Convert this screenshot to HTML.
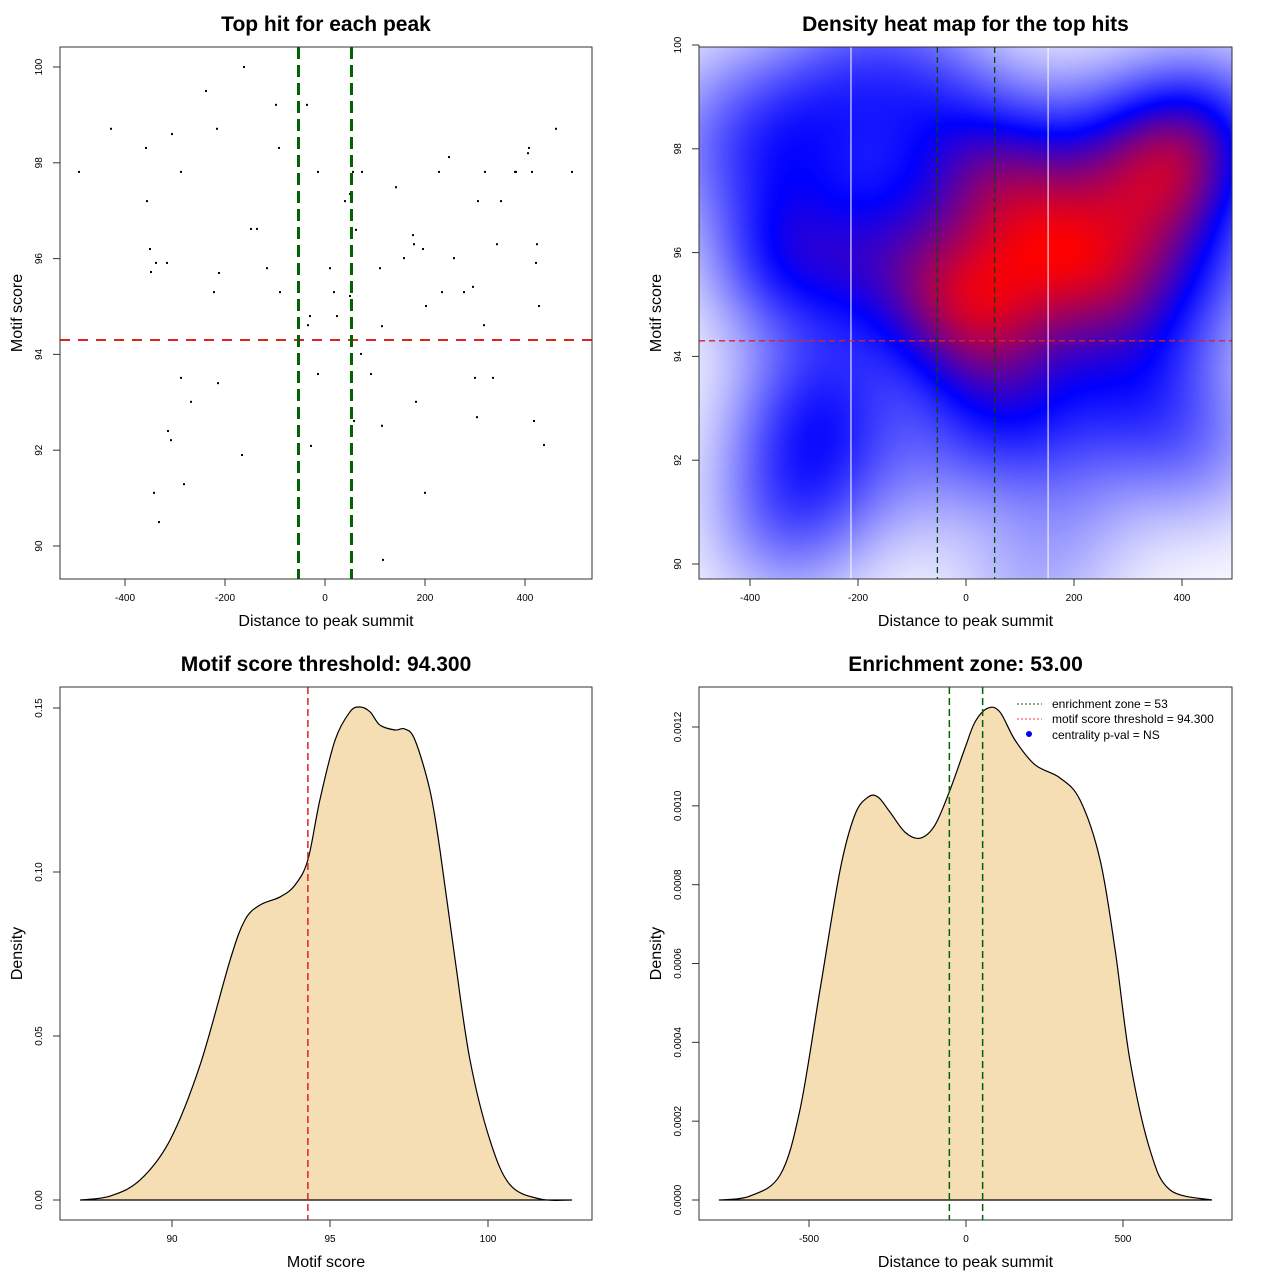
<!DOCTYPE html>
<html><head><meta charset="utf-8">
<style>
html,body{margin:0;padding:0;background:#fff;}
#wrap{position:relative;width:1280px;height:1280px;font-family:"Liberation Sans",sans-serif;}
#heat{position:absolute;left:699px;top:47px;}
#svg{position:absolute;left:0;top:0;}
</style></head>
<body>
<div id="wrap">
<canvas id="heat" width="533" height="532"></canvas>
<svg id="svg" width="1280" height="1280" xmlns="http://www.w3.org/2000/svg"></svg>
</div>
<script>
// ---- data ----
const hitDist = [-492,-428,-358,-356,-350,-348,-342,-338,-332,-316,-314,-308,-306,-288,-288,-282,-268,-238,-216,-214,-212,-222,-162,-166,-148,-136,-116,-98,-92,-90,-52,-36,-34,-30,-28,-14,-14,10,18,24,40,50,56,50,58,62,74,72,92,110,114,114,116,142,158,176,178,196,200,202,182,228,234,248,258,278,296,300,304,306,318,320,336,344,352,380,382,406,408,414,418,422,424,428,438,462,494];
const hitScore = [97.81,98.71,98.31,97.20,96.20,95.72,91.11,95.91,90.50,95.91,92.40,92.21,98.60,97.81,93.51,91.29,93.01,99.50,98.71,93.40,95.70,95.30,100.0,91.90,96.62,96.62,95.80,99.21,98.31,95.30,95.01,99.21,94.61,94.80,92.09,97.81,93.59,95.80,95.30,94.80,97.20,95.22,97.81,97.35,92.61,96.60,97.81,94.01,93.59,95.80,94.59,92.51,89.71,97.49,96.01,96.49,96.30,96.20,91.11,95.01,93.01,97.81,95.30,98.12,96.01,95.30,95.41,93.51,92.69,97.20,94.61,97.81,93.51,96.30,97.20,97.81,97.81,98.20,98.31,97.81,92.61,95.91,96.30,95.01,92.11,98.71,97.81];
const scoreThreshold = 94.3;
const enrichZone = 53;
const scoreDensX = [87.09,88.04,88.99,89.94,90.89,91.84,92.31,92.78,93.42,93.89,94.30,94.68,95.16,95.63,95.95,96.27,96.58,97.06,97.37,97.69,98.16,98.48,98.96,99.43,100.06,100.70,101.65,102.66];
const scoreDensY = [0,0.0012,0.0061,0.0183,0.0412,0.0732,0.0854,0.0899,0.0924,0.0960,0.1037,0.122,0.1402,0.1488,0.1503,0.1488,0.1448,0.1433,0.1436,0.1402,0.125,0.1067,0.0732,0.0427,0.0183,0.0046,0.0003,0];
const distDensX = [-787,-688,-592,-529,-465,-401,-354,-312,-280,-242,-194,-146,-99,-51,-3,29,70,108,156,220,299,363,427,475,522,586,650,783];
const distDensY = [0,0.0000101,0.0000634,0.000228,0.000533,0.000837,0.000977,0.001022,0.001022,0.000984,0.000933,0.000918,0.000951,0.001040,0.001147,0.001213,0.001248,0.001238,0.001167,0.001104,0.001071,0.001015,0.000863,0.000634,0.000355,0.000127,0.0000254,0];
const p1XTicks = [-400,-200,0,200,400];
const p1YTicks = [90,92,94,96,98,100];
const p3XTicks = [90,95,100];
const p3YTicks = [0,0.05,0.10,0.15];
const p3YLabels = ["0.00","0.05","0.10","0.15"];
const p4XTicks = [-500,0,500];
const p4YTicks = [0,0.0002,0.0004,0.0006,0.0008,0.0010,0.0012];
const p4YLabels = ["0.0000","0.0002","0.0004","0.0006","0.0008","0.0010","0.0012"];

const NS="http://www.w3.org/2000/svg";
const svg=document.getElementById('svg');
function el(tag,attrs,parent,txt){const e=document.createElementNS(NS,tag);for(const k in attrs)e.setAttribute(k,attrs[k]);if(txt!==undefined)e.textContent=txt;(parent||svg).appendChild(e);return e;}

function axes(g,box,xs,ys,xt,xl,yt,yl,title,xlab,ylab){
  el('rect',{x:box[0],y:box[1],width:box[2]-box[0],height:box[3]-box[1],fill:'none',stroke:'#333','stroke-width':1},g);
  const xa=el('g',{},g);
  el('line',{x1:xs(xt[0]),x2:xs(xt[xt.length-1]),y1:box[3],y2:box[3],stroke:'#333'},xa);
  xt.forEach((t,i)=>{const x=xs(t);el('line',{x1:x,x2:x,y1:box[3],y2:box[3]+7,stroke:'#333'},xa);
    const tx=el('text',{x:x,y:box[3]+22,'font-size':10,'text-anchor':'middle',fill:'#000'},xa,xl[i]);});
  const ya=el('g',{},g);
  el('line',{x1:box[0],x2:box[0],y1:ys(yt[0]),y2:ys(yt[yt.length-1]),stroke:'#333'},ya);
  yt.forEach((t,i)=>{const y=ys(t);el('line',{x1:box[0]-7,x2:box[0],y1:y,y2:y,stroke:'#333'},ya);
    const tx=el('text',{x:box[0]-18,y:y,'font-size':10,'text-anchor':'middle',fill:'#000',transform:`rotate(-90 ${box[0]-18} ${y})`},ya,yl[i]);});
  const tt=el('text',{x:(box[0]+box[2])/2,y:box[1]-16,'font-size':21,'font-weight':'bold','text-anchor':'middle'},g,title);
  
  const xl2=el('text',{x:(box[0]+box[2])/2,y:box[3]+47,'font-size':16,'text-anchor':'middle'},g,xlab);
  
  const yx=box[0]-38,yy=(box[1]+box[3])/2;
  const yl2=el('text',{x:yx,y:yy,'font-size':16,'text-anchor':'middle',transform:`rotate(-90 ${yx} ${yy})`},g,ylab);
  
}
function lscale(d0,r0,d1,r1){return v=>r0+(v-d0)*(r1-r0)/(d1-d0);}
function smoothPath(px,py){let d=`M${px[0]},${py[0]}`;for(let i=0;i<px.length-1;i++){const i0=Math.max(0,i-1),i3=Math.min(px.length-1,i+2);
  const c1x=px[i]+(px[i+1]-px[i0])/6,c1y=py[i]+(py[i+1]-py[i0])/6,c2x=px[i+1]-(px[i3]-px[i])/6,c2y=py[i+1]-(py[i3]-py[i])/6;
  d+=` C${c1x},${c1y} ${c2x},${c2y} ${px[i+1]},${py[i+1]}`;}return d;}

// ---- Panel 1: scatter ----
{
  const g=el('g',{});
  const box=[60,47,592,579];
  const xs=lscale(0,325,400,525), ys=lscale(90,546,100,67);
  hitDist.forEach((d,i)=>{const c=el('rect',{x:xs(d)-1,y:ys(hitScore[i])-1,width:2,height:2,fill:'#000'},g);
    });
  const r=el('line',{x1:box[0],x2:box[2],y1:ys(scoreThreshold),y2:ys(scoreThreshold),stroke:'#dd2222','stroke-width':2,'stroke-dasharray':'10,8'},g);
  
  [-enrichZone,enrichZone].forEach(z=>{const l=el('line',{x1:xs(z),x2:xs(z),y1:box[1],y2:box[3],stroke:'#006400','stroke-width':3,'stroke-dasharray':'12,6'},g);
    });
  axes(g,box,xs,ys,p1XTicks,p1XTicks.map(String),p1YTicks,p1YTicks.map(String),'Top hit for each peak','Distance to peak summit','Motif score');
}

// ---- Panel 2: heatmap ----
{
  const box=[699,47,1232,579];
  const xs=lscale(0,966,400,1182), ys=lscale(90,564,100,45);
  const cv=document.getElementById('heat'),ctx=cv.getContext('2d');
  const W=cv.width,H=cv.height,img=ctx.createImageData(W,H);
  const bx=95, by=1.05; const dens=new Float32Array(W*H); let mx=0;
  for(let j=0;j<H;j++){const sc=90+(box[1]+j-ys(90))/((ys(100)-ys(90))/10);
    for(let i=0;i<W;i++){const d=(box[0]+i-966)/0.54; let v=0;
      for(let k=0;k<hitDist.length;k++){const a=(d-hitDist[k])/bx,b=(sc-hitScore[k])/by;v+=Math.exp(-0.5*(a*a+b*b));}
      dens[j*W+i]=v; if(v>mx)mx=v;}}
  const T=0.5;
  for(let p=0;p<W*H;p++){let t=dens[p]/mx; let r,gg,b;
    if(t<T){const w=1-Math.pow(t/T,0.8);r=255*w;gg=255*w;b=255;}
    else{const w=(t-T)/(1-T);r=255*w;gg=0;b=255*(1-w);}
    img.data[p*4]=r;img.data[p*4+1]=gg;img.data[p*4+2]=b;img.data[p*4+3]=255;}
  ctx.putImageData(img,0,0);
  const g=el('g',{});
  [-213,152].forEach(v=>el('line',{x1:xs(v),x2:xs(v),y1:box[1],y2:box[3],stroke:'#fff','stroke-width':1},g));
  const r=el('line',{x1:box[0],x2:box[2],y1:ys(scoreThreshold),y2:ys(scoreThreshold),stroke:'#dd2222','stroke-width':1.3,'stroke-dasharray':'6,4'},g);
  
  [-enrichZone,enrichZone].forEach(z=>{const l=el('line',{x1:xs(z),x2:xs(z),y1:box[1],y2:box[3],stroke:'#004d00','stroke-width':1.3,'stroke-dasharray':'6,4'},g);
    });
  axes(g,box,xs,ys,p1XTicks,p1XTicks.map(String),p1YTicks,p1YTicks.map(String),'Density heat map for the top hits','Distance to peak summit','Motif score');
}

// ---- Panel 3: score density ----
{
  const box=[60,687,592,1220];
  const xs=lscale(90,172,100,488), ys=lscale(0,1200,0.15,708);
  const g=el('g',{});
  const px=scoreDensX.map(xs),py=scoreDensY.map(ys);
  const a=el('path',{d:smoothPath(px,py)+' Z',fill:'#f5deb3',stroke:'#000','stroke-width':1.2},g);
  
  const r=el('line',{x1:xs(scoreThreshold),x2:xs(scoreThreshold),y1:box[1],y2:box[3],stroke:'#dd2222','stroke-width':1.5,'stroke-dasharray':'7,4'},g);
  
  axes(g,box,xs,ys,p3XTicks,p3XTicks.map(String),p3YTicks,p3YLabels,'Motif score threshold: 94.300','Motif score','Density');
}

// ---- Panel 4: distance density ----
{
  const box=[699,687,1232,1220];
  const xs=lscale(0,966,500,1123), ys=lscale(0,1200,0.0012,727);
  const g=el('g',{});
  const px=distDensX.map(xs),py=distDensY.map(ys);
  const a=el('path',{d:smoothPath(px,py)+' Z',fill:'#f5deb3',stroke:'#000','stroke-width':1.2},g);
  
  [-enrichZone,enrichZone].forEach(z=>{const l=el('line',{x1:xs(z),x2:xs(z),y1:box[1],y2:box[3],stroke:'#006400','stroke-width':1.5,'stroke-dasharray':'7,4'},g);
    });
  axes(g,box,xs,ys,p4XTicks,p4XTicks.map(String),p4YTicks,p4YLabels,'Enrichment zone: 53.00','Distance to peak summit','Density');
  const lg=el('g',{},g);
  const e1=el('g',{},lg);
  el('line',{x1:1017,x2:1042,y1:704,y2:704,stroke:'#006400','stroke-dasharray':'2,2'},e1);
  el('text',{x:1052,y:708,'font-size':12},e1,'enrichment zone = 53');
  const e2=el('g',{},lg);
  el('line',{x1:1017,x2:1042,y1:719,y2:719,stroke:'#ff3333','stroke-dasharray':'2,2'},e2);
  el('text',{x:1052,y:723,'font-size':12},e2,'motif score threshold = 94.300');
  const e3=el('g',{},lg);
  el('circle',{cx:1029,cy:734,r:3,fill:'#0000ff'},e3);
  el('text',{x:1052,y:739,'font-size':12},e3,'centrality p-val = NS');
}
</script>
</body></html>
